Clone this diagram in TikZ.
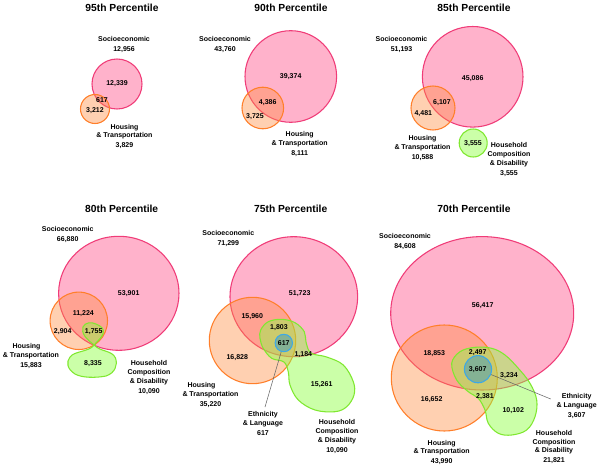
\documentclass[tikz,border=0pt]{standalone}
\usepackage{fontspec}
\setmainfont{Liberation Sans}
\definecolor{pinkS}{HTML}{F03C78}
\definecolor{pinkF}{HTML}{FF6699}
\definecolor{orangeS}{HTML}{FF7F2A}
\definecolor{orangeF}{HTML}{FF8A3D}
\definecolor{greenS}{HTML}{80E830}
\definecolor{greenF}{HTML}{8CFF40}
\definecolor{blueS}{HTML}{3CA8E8}
\definecolor{blueF}{HTML}{4A9FB5}
\newcommand\lblfont{\fontsize{5.25}{6.6}\selectfont\bfseries}
\newcommand\ttlfont{\fontsize{7.7}{9}\selectfont\bfseries}
\begin{document}
\begin{tikzpicture}[x=0.75pt,y=-0.75pt,
  pinkset/.style={draw=pinkS, fill=pinkF, fill opacity=0.5, line width=0.8pt},
  orangeset/.style={draw=orangeS, fill=orangeF, fill opacity=0.4, line width=0.8pt},
  greenset/.style={draw=greenS, fill=greenF, fill opacity=0.45, line width=0.8pt},
  blueset/.style={circle, draw=blueS, fill=blueF, fill opacity=0.55, line width=0.8pt, inner sep=0pt},
  num/.style={font=\lblfont, inner sep=0pt},
  lab/.style={font=\lblfont, align=center, inner sep=0pt},
  ttl/.style={font=\ttlfont, inner sep=0pt},
  leader/.style={draw=black!60, line width=0.4pt}]
\useasboundingbox (0,0) rectangle (600,471);
\fill[white] (0,0) rectangle (600,471);

% ---------- 95th ----------
\node[ttl] (t95) at (122,7.5) {95th Percentile};
\path[pinkset] (117,84) circle[radius=25];
\path[orangeset] (95,109) circle[radius=14.5];
\node[num] (n95a) at (117,84) {12,339};
\node[num] (n95b) at (102,100) {617};
\node[num] (n95c) at (95,111) {3,212};
\node[lab] (s95) at (124,45) {Socioeconomic\\[0.9pt]12,956};
\node[lab] (h95) at (124.5,136.5) {Housing\\\& Transportation\\[0.9pt]3,829};

% ---------- 90th ----------
\node[ttl] (t90) at (291,7.5) {90th Percentile};
\path[pinkset] (290.8,76.5) circle[radius=45.8];
\path[orangeset] (262.8,108) circle[radius=20.8];
\node[num] (n90a) at (290.7,77) {39,374};
\node[num] (n90b) at (267.7,103) {4,386};
\node[num] (n90c) at (255,117) {3,725};
\node[lab] (s90) at (225,45) {Socioeconomic\\[0.9pt]43,760};
\node[lab] (h90) at (299.7,144) {Housing\\\& Transportation\\[0.9pt]8,111};

% ---------- 85th ----------
\node[ttl] (t85) at (474,7.5) {85th Percentile};
\path[pinkset] (472.7,76.8) circle[radius=50.3];
\path[orangeset] (433,108) circle[radius=22];
\path[greenset] (473.2,143) circle[radius=14];
\node[num] (n85a) at (472.7,78.7) {45,086};
\node[num] (n85b) at (442,102.7) {6,107};
\node[num] (n85c) at (423.3,113.7) {4,481};
\node[num] (n85d) at (473,144) {3,555};
\node[lab] (s85) at (401.5,45) {Socioeconomic\\[0.9pt]51,193};
\node[lab] (h85) at (422.5,148.3) {Housing\\\& Transportation\\[0.9pt]10,588};
\node[lab] (d85) at (509,159.8) {Household\\Composition\\\& Disability\\[0.9pt]3,555};

% ---------- 80th ----------
\node[ttl] (t80) at (121.7,209.3) {80th Percentile};
\path[pinkset] (118.8,293.3) ellipse[x radius=60.2, y radius=57];
\path[orangeset] (78.8,320.8) circle[radius=28.7];
\path[greenset] (94.3,345) .. controls (86,339) and (81,333) .. (83,327)
  .. controls (85,322) and (92,322) .. (96,324)
  .. controls (101,326) and (105,329) .. (103,334)
  .. controls (101,339) and (96,342) .. (94.3,345) -- cycle;
\path[greenset] (94.3,345) .. controls (100,352) and (112,350) .. (115.5,358)
  .. controls (118,365) and (115,373) .. (106,376)
  .. controls (96,378) and (82,378) .. (75,374)
  .. controls (67,369) and (66,362) .. (70,357)
  .. controls (74,351) and (89,352) .. (94.3,345) -- cycle;
\node[num] (n80a) at (128.7,293.7) {53,901};
\node[num] (n80b) at (83.3,313.7) {11,224};
\node[num] (n80c) at (62.7,331.3) {2,904};
\node[num] (n80d) at (93.7,332) {1,755};
\node[num] (n80e) at (93,364) {8,335};
\node[lab] (s80) at (67.7,234.7) {Socioeconomic\\[0.9pt]66,880};
\node[lab] (h80) at (31,355.8) {\hspace*{-6.75pt}Housing\\\& Transportation\\[0.9pt]15,883};
\node[lab] (d80) at (149,377.5) {Household\\Composition\\\& Disability\\[0.9pt]10,090};

% ---------- 75th ----------
\node[ttl] (t75) at (290.7,209.3) {75th Percentile};
\path[pinkset] (293.8,296.7) ellipse[x radius=63.8, y radius=60];
\path[orangeset] (252.5,340.5) circle[radius=43.2];
\path[greenset] plot[smooth cycle, tension=0.6] coordinates {
  (260.7,330) (268.3,321.7) (281.7,319.3) (295,322.7) (304.3,331.7) (306,342)
  (311,353) (326.7,357) (343.3,365) (353.3,381.7) (354,395) (346.7,406.7)
  (335,411.7) (315,410) (298.3,400) (290,385) (288.3,372) (284,362)
  (271.7,358.3) (263.3,348.3) (260,338.3)};
\node[blueset, minimum size=13.05pt] (b75) at (283.8,343) {};
\coordinate (l75) at (265,407);
\draw[leader] (b75) -- (l75);
\node[num] (n75a) at (299.7,293.3) {51,723};
\node[num] (n75b) at (252.3,316.3) {15,960};
\node[num] (n75c) at (237.3,358) {16,828};
\node[num] (n75d) at (279,328) {1,803};
\node[num] (n75e) at (283.7,343.3) {617};
\node[num] (n75f) at (303.3,354.3) {1,184};
\node[num] (n75g) at (321.7,384.3) {15,261};
\node[lab] (s75) at (228.3,238.7) {Socioeconomic\\[0.9pt]71,299};
\node[lab] (h75) at (210.5,395) {\hspace*{-13.5pt}Housing\\\& Transportation\\[0.9pt]35,220};
\node[lab] (e75) at (263,423.7) {Ethnicity\\\& Language\\[0.9pt]617};
\node[lab] (d75) at (337,436.7) {Household\\Composition\\\& Disability\\[0.9pt]10,090};

% ---------- 70th ----------
\node[ttl] (t70) at (474,209.3) {70th Percentile};
\path[pinkset] (482.2,313.3) ellipse[x radius=91.5, y radius=76.7];
\path[orangeset] (444.3,378) circle[radius=53];
\path[greenset] plot[smooth cycle, tension=0.6] coordinates {
  (451.7,363.3) (460,351.7) (475,347.3) (491.7,348.3) (505,355) (518.3,368.3)
  (530,383.3) (536.7,400) (535,416.7) (526.7,430) (511.7,435) (498.3,433.3)
  (488.3,423.3) (485,410) (478.3,398.3) (468.3,391.7) (456.7,380)};
\node[blueset, minimum size=20.4pt] (b70) at (478,369.2) {};
\coordinate (l70) at (550.7,399);
\draw[leader] (b70) -- (l70);
\node[num] (n70a) at (482.7,305.7) {56,417};
\node[num] (n70b) at (434.3,354) {18,853};
\node[num] (n70c) at (431.7,399.3) {16,652};
\node[num] (n70d) at (477.7,352.7) {2,497};
\node[num] (n70e) at (477.7,370) {3,607};
\node[num] (n70f) at (509,375.3) {3,234};
\node[num] (n70g) at (485,396.7) {2,381};
\node[num] (n70h) at (513.3,410.3) {10,102};
\node[lab] (s70) at (405,241.3) {Socioeconomic\\[0.9pt]84,608};
\node[lab] (h70) at (441.7,452.5) {Housing\\\& Transportation\\[0.9pt]43,990};
\node[lab] (e70) at (576.7,406) {Ethnicity\\\& Language\\[0.9pt]3,607};
\node[lab] (d70) at (554,447.2) {Household\\Composition\\\& Disability\\[0.9pt]21,821};
\end{tikzpicture}
\end{document}
